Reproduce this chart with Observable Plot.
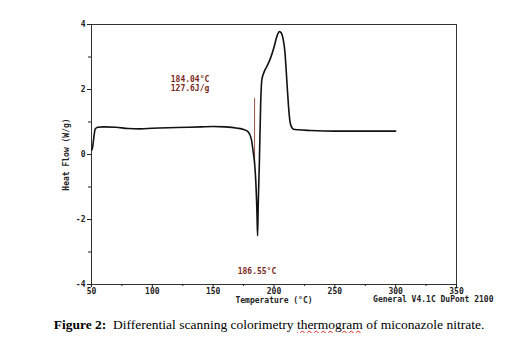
<!DOCTYPE html>
<html>
<head>
<meta charset="utf-8">
<script src="https://cdn.jsdelivr.net/npm/d3@7"></script>
<script src="https://cdn.jsdelivr.net/npm/@observablehq/plot@0.6"></script>
<style>
  body { margin: 0; background: #fff; }
  #chart svg { display: block; }
  #caption { font-family: "Liberation Serif", "Times New Roman", serif; font-size: 13.5px; color: #000; text-align: center; width: 538px; margin-top: 7px; }
  #caption .sp { text-decoration: underline wavy #d22; text-decoration-thickness: 1px; }
</style>
</head>
<body>
<div id="chart"></div>
<div id="caption"><b>Figure 2:</b>&nbsp; Differential scanning colorimetry <span class="sp">thermogram</span> of miconazole nitrate.</div>
<script>
const temps = [50.5, 51, 52, 53, 55, 60, 70, 80, 90, 100, 120, 140, 150, 160, 170, 175, 178, 180, 181.5, 183, 184, 185, 186, 186.5, 187, 188, 189, 190, 192, 194, 197, 200, 202.5, 204.5, 206, 207.5, 209, 210, 211, 212, 213, 214, 216, 220, 230, 250, 270, 300];
const heatFlow = [0.15, 0.25, 0.55, 0.78, 0.84, 0.85, 0.84, 0.80, 0.79, 0.81, 0.83, 0.85, 0.86, 0.85, 0.81, 0.77, 0.72, 0.62, 0.45, 0.05, -0.25, -0.8, -1.8, -2.5, -1.6, -0.2, 1.5, 2.3, 2.55, 2.7, 2.95, 3.3, 3.65, 3.78, 3.74, 3.55, 3.15, 2.6, 2.0, 1.45, 1.05, 0.88, 0.78, 0.76, 0.74, 0.72, 0.72, 0.72];
const xTicks = [50, 100, 150, 200, 250, 300, 350];
const xMinorTicks = [75, 125, 175, 225, 275, 325];
const yTicks = [-4, -2, 0, 2, 4];
const yMinorTicks = [-3, -1, 1, 3];
const onsetTemp = "184.04";
const enthalpy = "127.6";
const peakTemp = "186.55";
const footer = "General V4.1C DuPont 2100";

const data = temps.map((t, i) => ({t, hf: heatFlow[i]}));
const font = "DejaVu Sans Mono, monospace";
const red = "#7a2a22";

const chart = Plot.plot({
  width: 515,
  height: 310,
  marginLeft: 91,
  marginRight: 59,
  marginTop: 24,
  marginBottom: 26,
  style: {fontFamily: font, fontSize: "8px", fontWeight: "bold", color: "#222", background: "#fff"},
  x: {domain: [50, 350]},
  y: {domain: [-4, 4]},
  marks: [
    Plot.frame({stroke: "#333", strokeWidth: 1}),
    Plot.axisX(xTicks, {tickSize: 3, tickPadding: 1, label: "Temperature (°C)", labelAnchor: "center", labelOffset: 18, labelArrow: "none", fontWeight: "bold"}),
    Plot.axisX(xMinorTicks, {tickSize: 2, text: null, label: null}),
    Plot.axisY(yTicks, {tickSize: 4, tickPadding: 2, tickFormat: d => d, label: "Heat Flow (W/g)", labelAnchor: "center", labelOffset: 28, labelArrow: "none", fontWeight: "bold"}),
    Plot.axisY(yMinorTicks, {tickSize: 3, text: null, label: null}),
    Plot.ruleX([+onsetTemp], {y1: 1.72, y2: -0.3, stroke: "#9a5048", strokeWidth: 1}),
    Plot.line(data, {x: "t", y: "hf", curve: "monotone-x", stroke: "#111", strokeWidth: 1.6}),
    Plot.text([`${onsetTemp}°C`], {x: 131, y: 2.3, text: d => d, fill: red, fontSize: 8, fontWeight: "bold"}),
    Plot.text([`${enthalpy}J/g`], {x: 131, y: 2.02, text: d => d, fill: red, fontSize: 8, fontWeight: "bold"}),
    Plot.text([`${peakTemp}°C`], {x: 186, y: -3.6, text: d => d, fill: red, fontSize: 8, fontWeight: "bold"}),
    Plot.text([footer], {x: 350, y: -4, dx: 37, dy: 15, textAnchor: "end", text: d => d, fill: "#222", fontSize: 8, fontWeight: "bold"})
  ]
});
document.getElementById("chart").append(chart);
</script>
</body>
</html>
